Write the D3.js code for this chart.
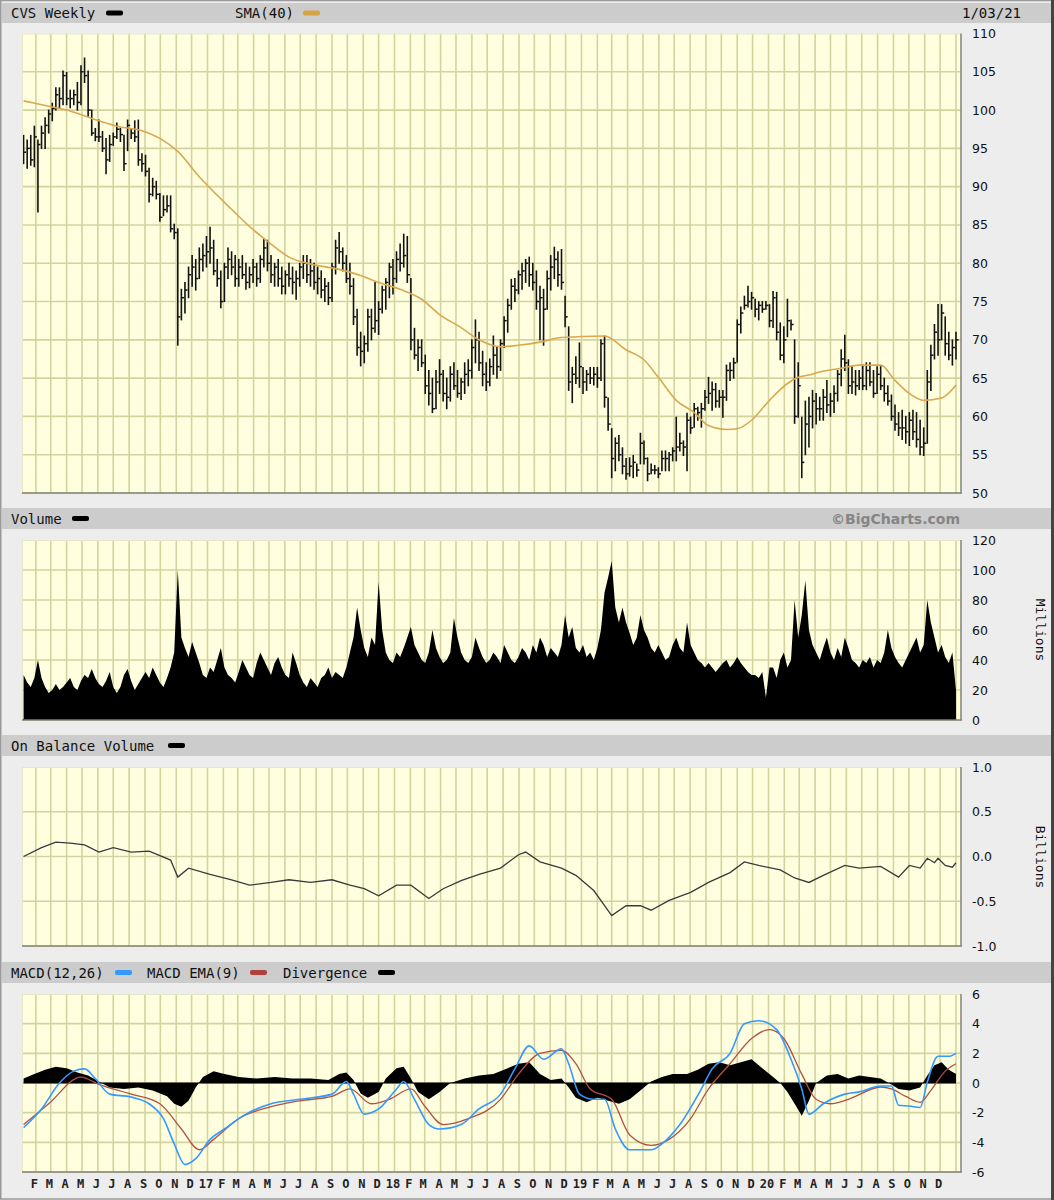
<!DOCTYPE html>
<html><head><meta charset="utf-8">
<script src="https://cdn.jsdelivr.net/npm/d3@7"></script>
<style>body{margin:0;background:#ededed}</style>
</head><body>
<svg id="c" width="1054" height="1200"></svg>
<script>
// ---------------- DATA ----------------
const firstWeek = "2016-01-08";
const priceHigh = [96.7,96.1,96.7,97.9,96.1,97.9,99.0,100.0,100.9,102.9,102.9,105.1,104.9,102.6,102.6,103.6,105.8,106.8,105.1,100.0,97.6,98.7,97.2,96.3,96.7,97.0,98.3,97.6,96.7,98.7,97.6,98.6,98.7,94.3,94.1,92.4,91.1,90.7,89.1,88.8,88.8,88.8,85.1,84.5,
76.6,77.5,79.5,81.0,80.5,82.0,82.5,83.5,84.7,83.0,80.5,79.0,80.0,82.0,81.5,81.0,80.5,81.0,80.0,79.5,80.5,80.0,81.0,83.2,83.0,81.0,80.0,80.5,79.5,79.0,80.0,79.5,79.0,80.0,81.0,81.0,80.5,80.0,79.5,79.0,78.0,77.5,80.0,83.0,84.0,82.0,81.0,80.0,78.0,74.0,71.0,70.5,74.0,74.0,77.5,75.0,77.0,78.0,80.0,80.5,81.5,82.5,83.8,83.5,78.0,71.5,70.0,70.0,68.0,66.0,65.0,66.0,67.4,66.0,65.0,66.5,67.0,66.0,65.0,67.0,67.4,70.0,72.6,71.0,68.5,67.0,67.5,70.5,69.0,70.0,73.0,75.3,77.9,78.0,79.0,80.0,80.5,80.8,80.0,79.0,77.0,76.6,79.0,81.0,82.1,81.5,
81.8,75.7,71.7,66.4,67.8,69.6,66.4,66.0,66.4,66.4,66.4,70.0,70.5,62.4,58.4,57.2,57.5,55.9,54.5,54.6,54.9,53.8,57.8,56.8,54.6,53.8,53.6,53.3,55.5,55.5,55.3,55.9,59.9,57.8,56.8,60.4,59.9,61.7,61.2,61.7,63.4,65.1,64.5,64.3,63.4,63.4,66.7,67.0,67.6,72.6,74.3,75.7,77.0,76.2,75.3,75.0,75.0,75.0,74.6,76.3,76.2,72.2,71.7,75.3,72.6,70.0,67.0,59.9,
62.0,62.5,63.4,63.0,62.5,63.5,64.7,63.0,64.0,66.0,68.7,70.6,67.4,66.5,66.0,66.0,66.7,67.0,67.0,66.0,66.5,66.5,65.0,64.0,62.8,61.5,60.5,60.8,60.0,60.5,60.8,60.5,59.5,58.5,66.0,69.3,72.0,74.6,74.6,73.0,71.0,70.0,71.0];
const priceLow = [93.0,92.4,92.8,92.6,86.7,95.0,95.0,97.0,98.6,100.0,100.3,100.7,100.7,100.3,100.7,100.0,100.7,103.6,99.2,96.7,96.0,95.9,94.6,91.7,93.3,95.4,96.3,95.9,92.1,94.7,96.3,95.9,92.8,92.0,91.4,88.0,88.8,88.4,85.5,86.2,86.7,84.1,83.2,69.3,
72.6,73.5,75.5,77.0,76.5,78.0,79.0,79.5,80.0,78.5,77.0,74.2,75.0,78.0,78.5,77.0,77.0,78.0,76.6,76.8,77.5,77.0,77.5,79.5,79.0,77.5,77.0,77.0,76.0,76.0,77.0,76.0,75.3,77.0,78.0,77.5,77.0,76.6,76.0,75.5,75.0,74.6,75.0,78.6,80.0,79.0,77.5,76.0,72.0,68.0,66.6,67.0,68.5,70.0,71.0,70.7,73.5,74.0,75.5,76.0,77.5,79.0,79.5,77.5,68.7,67.5,66.0,66.5,63.0,61.5,60.5,61.0,63.0,62.0,61.0,62.0,63.5,62.5,62.2,63.0,64.0,65.0,67.0,66.0,64.0,63.4,64.0,65.5,65.0,66.0,69.0,71.0,74.0,75.0,76.0,76.6,77.5,77.0,76.5,74.0,70.0,69.3,74.0,76.5,78.0,77.0,
76.6,71.7,63.4,61.8,64.3,63.8,63.0,63.4,64.3,64.1,63.8,64.7,61.2,58.2,52.0,52.9,54.2,52.5,51.8,52.2,52.0,52.2,53.8,53.8,51.6,52.5,52.5,52.0,52.9,52.9,52.9,54.2,54.2,55.5,54.9,52.9,57.8,58.6,59.5,58.6,60.8,61.7,60.8,61.2,61.2,59.9,62.1,64.7,65.0,67.1,70.9,74.0,74.3,74.0,73.0,72.6,73.6,74.0,71.7,71.6,70.0,67.4,67.0,70.4,71.3,59.1,59.9,52.0,
55.0,56.0,58.5,59.0,59.5,59.5,60.5,60.0,60.5,62.0,64.0,66.0,63.0,63.0,62.8,63.5,63.5,63.5,64.0,62.5,63.0,63.5,62.0,61.5,59.5,58.2,57.5,57.0,56.5,56.2,57.0,56.0,55.0,54.9,56.5,63.4,67.5,68.0,70.0,68.0,67.4,66.7,67.5];
const priceClose = [94.5,95.0,93.5,96.5,95.5,97.0,98.0,99.5,100.2,102.0,101.5,104.5,101.5,101.5,102.0,101.0,105.0,104.5,100.0,97.0,96.5,96.5,95.0,93.5,95.5,96.5,97.5,96.8,93.0,98.0,97.0,96.5,93.5,93.0,92.0,89.0,90.0,89.0,86.0,87.0,87.5,84.5,84.0,73.0,
75.5,76.5,78.5,79.5,78.0,80.5,81.0,81.5,82.0,79.0,78.0,75.0,79.5,80.5,79.5,78.0,79.5,78.5,77.5,78.5,79.5,78.0,80.5,82.0,80.0,78.5,79.5,78.0,77.0,78.5,78.0,77.5,78.0,79.5,80.0,78.5,79.0,77.5,78.0,76.5,77.0,75.5,79.5,82.0,81.5,80.0,78.0,77.0,73.0,69.0,68.5,69.5,73.0,71.5,72.5,74.0,76.5,77.5,79.5,78.0,80.5,80.0,81.0,78.5,70.0,68.0,69.0,67.0,64.0,63.0,61.0,64.5,65.5,63.0,62.5,65.5,64.0,63.0,64.5,65.5,66.0,69.0,70.0,67.0,65.5,64.5,66.5,68.0,66.5,69.5,72.5,74.5,77.0,76.5,78.5,79.0,80.0,78.5,77.5,75.0,75.5,74.0,78.0,79.5,80.5,78.5,
77.5,73.0,64.5,65.5,65.0,66.5,64.5,65.5,65.0,65.5,65.0,69.5,62.5,59.0,54.5,56.5,55.0,53.5,52.5,53.5,54.0,53.0,56.5,54.5,52.5,53.0,53.0,52.5,54.5,54.5,55.0,55.5,56.0,56.5,56.0,59.5,58.5,61.0,60.5,61.0,62.5,63.0,63.5,62.0,62.5,62.5,66.0,66.0,67.0,72.0,73.5,74.5,75.0,75.5,74.0,74.5,74.0,74.5,72.5,75.5,71.0,68.0,70.0,72.5,72.0,60.0,64.0,54.0,
59.0,60.0,62.0,61.0,61.0,62.5,61.5,62.0,63.0,65.5,67.5,67.0,64.0,64.5,64.0,65.0,64.0,66.0,64.5,63.0,65.5,64.0,63.0,62.0,60.0,59.0,58.5,58.5,58.0,59.5,58.0,57.0,56.0,56.5,64.5,68.0,71.0,70.0,73.5,69.5,68.0,69.0,70.0];

const smaWeeks  = [0,7,12,19,26,33,38,43,49,57,63,69,74,80,88,94,99,105,111,116,122,127,133,138,144,150,162,168,173,177,182,187,191,196,199,203,208,213,216,219,222,228,233,239,243,247,251,256,260];
const smaValues = [101.2,100.5,100.0,98.9,97.9,97.3,96.3,94.6,91.3,87.5,84.8,82.5,80.8,79.9,79.2,78.4,77.5,76.6,75.3,73.3,71.6,70.0,69.1,69.3,69.7,70.3,70.5,68.7,67.4,65.1,62.1,60.5,58.8,58.3,58.4,59.5,62.1,64.3,65.1,65.4,65.8,66.3,66.7,66.7,64.7,63.0,62.1,62.4,64.1];

const volumeMillions = [30,25,22,28,40,28,22,18,20,24,20,22,25,28,22,20,26,30,28,34,28,24,22,26,32,22,18,22,30,34,26,20,24,28,32,28,35,30,25,22,28,35,45,100,
55,48,42,52,45,38,30,28,35,32,40,48,35,30,28,25,32,40,35,30,28,38,45,40,35,30,38,42,35,30,28,45,38,30,25,22,28,25,22,28,30,35,28,32,30,28,35,45,55,75,60,48,42,55,50,92,60,45,40,38,45,42,48,55,62,50,45,40,38,45,60,48,42,38,40,45,68,55,45,40,38,42,55,48,42,38,40,45,42,38,50,45,40,38,42,48,45,40,50,45,55,50,42,48,45,42,
50,70,55,62,48,45,50,42,45,40,48,60,85,95,106,75,65,75,65,58,50,55,70,60,55,48,45,50,45,40,42,50,55,48,45,65,50,45,40,38,35,38,35,32,35,38,40,35,38,42,38,35,32,30,30,28,32,15,35,35,28,40,45,35,40,80,55,70,
93,60,50,45,40,48,55,45,40,48,42,55,48,40,38,35,40,38,42,35,40,38,45,60,48,42,38,35,40,45,50,55,45,50,80,65,55,45,50,42,38,45,20];

const obvWeeks  = [0,5,9,13,17,21,25,30,35,41,43,46,52,58,63,69,74,80,86,91,95,99,104,108,113,117,122,127,133,138,140,144,150,154,159,164,168,172,175,180,186,191,197,201,205,211,215,219,223,229,233,239,244,247,250,252,254,255,257,259,260];
const obvBillions = [0.0,0.10,0.16,0.15,0.13,0.05,0.10,0.05,0.06,-0.04,-0.23,-0.13,-0.20,-0.26,-0.32,-0.29,-0.26,-0.29,-0.26,-0.32,-0.36,-0.44,-0.32,-0.32,-0.47,-0.36,-0.27,-0.20,-0.13,0.02,0.05,-0.06,-0.13,-0.21,-0.38,-0.66,-0.55,-0.55,-0.60,-0.49,-0.40,-0.29,-0.18,-0.06,-0.10,-0.15,-0.24,-0.29,-0.21,-0.10,-0.13,-0.11,-0.23,-0.10,-0.13,-0.02,-0.07,-0.02,-0.10,-0.12,-0.07];

const macdWeeks  = [0,5,10,14,17,20,24,30,35,39,42,45,48,52,56,62,69,77,86,90,92,95,99,104,106,109,113,116,122,127,133,137,141,145,150,152,155,159,162,165,169,175,178,183,189,192,197,201,205,210,214,217,219,223,229,233,239,242,244,247,250,252,255,258,260];
const macdValues = [-3.0,-1.75,0.0,0.8,0.95,0.3,-0.75,-0.95,-1.4,-2.4,-4.1,-5.5,-5.1,-3.8,-3.1,-2.1,-1.4,-1.1,-0.75,0.1,-0.75,-2.1,-1.75,-0.4,0.1,-1.1,-2.8,-3.1,-2.8,-1.75,-0.75,0.95,2.5,1.6,2.3,1.3,-0.75,-1.1,-1.1,-3.1,-4.5,-4.5,-4.1,-2.8,-0.4,0.95,2.0,4.0,4.2,3.6,1.6,-0.4,-2.1,-1.4,-0.75,-0.6,-0.2,-0.2,-1.5,-1.55,-1.65,0.05,1.8,1.8,2.0];
const emaWeeks  = [0,7,16,21,30,38,44,49,53,60,69,77,86,91,97,102,108,112,117,124,133,138,144,150,154,158,164,169,175,180,186,191,197,203,208,212,217,221,225,230,239,242,246,250,253,257,260];
const emaValues = [-2.8,-1.4,0.4,-0.1,-0.75,-1.4,-3.1,-4.5,-3.8,-2.4,-1.6,-1.2,-0.9,-0.4,-1.4,-1.1,-0.4,-1.6,-2.8,-2.4,-1.1,0.6,2.0,2.2,1.3,-0.4,-1.1,-3.5,-4.2,-3.8,-2.4,-0.4,1.3,3.0,3.6,3.0,0.6,-1.1,-1.4,-1.1,-0.27,-0.4,-0.9,-1.3,-0.5,0.8,1.3];
const divWeeks  = [0,3,6,9,12,15,18,21,24,28,32,36,40,42,44,46,48,50,53,56,60,65,70,75,80,85,88,90,92,94,96,99,101,104,106,108,110,113,116,119,123,127,131,135,138,141,144,147,150,152,154,157,160,163,166,169,172,175,178,181,185,188,191,194,197,200,203,206,209,211,213,215,217,219,221,224,227,230,233,236,239,242,244,247,250,252,254,256,258,260];
const divValues = [0.3,0.6,0.9,1.1,1.0,0.7,0.5,0.1,-0.3,-0.4,-0.3,-0.5,-0.9,-1.4,-1.6,-1.2,-0.3,0.4,0.8,0.6,0.4,0.3,0.4,0.3,0.3,0.2,0.6,0.7,0.2,-0.7,-1.0,-0.6,0.3,1.0,1.1,0.3,-0.6,-1.1,-0.6,0.0,0.3,0.5,0.6,1.0,1.3,1.4,0.6,0.2,0.3,-0.3,-1.0,-1.3,-1.0,-1.2,-1.4,-1.1,-0.5,0.1,0.4,0.6,0.6,0.9,1.3,1.4,1.2,1.4,1.6,1.0,0.4,0.0,-0.6,-1.4,-2.2,-1.2,0.0,0.5,0.6,0.3,0.5,0.4,0.3,-0.1,-0.4,-0.5,-0.3,0.5,1.2,1.4,0.9,0.6];

const xTickLabels = ["F","M","A","M","J","J","A","S","O","N","D","17","F","M","A","M","J","J","A","S","O","N","D","18","F","M","A","M","J","J","A","S","O","N","D","19","F","M","A","M","J","J","A","S","O","N","D","20","F","M","A","M","J","J","A","S","O","N","D"];
const priceTicks = [110,105,100,95,90,85,80,75,70,65,60,55,50];
const volumeTicks = [120,100,80,60,40,20,0];
const obvTicks = [1,0.5,0,-0.5,-1];
const obvTickLabels = ["1.0","0.5","0.0","-0.5","-1.0"];
const macdTicks = [6,4,2,0,-2,-4,-6];
const macdTickLabels = ["6","4","2","0","-2","-4","-6"];

// ---------------- DRAW ----------------
const svg = d3.select("#c");
const W = 1054, H = 1200, PL = 22, PR = 961;
const BG = "#ededed", BAND = "#cccccc", PLOT = "#ffffe0", GRID = "#d3d39f";
const MONO = "'DejaVu Sans Mono', monospace", SANS = "'DejaVu Sans', Verdana, sans-serif";

svg.append("rect").attr("width", W).attr("height", H).attr("fill", BG);

const parse = d3.utcParse("%Y-%m-%d");
const start = parse(firstWeek);
const weekDate = i => d3.utcDay.offset(start, 7 * i);
const x = d3.scaleUtc().domain([new Date(Date.UTC(2016,0,1)), new Date(Date.UTC(2021,0,3))]).range([20, 957]);
const months = d3.utcMonth.range(new Date(Date.UTC(2016,1,1)), new Date(Date.UTC(2021,0,2)));

function band(y0, y1) {
  svg.append("rect").attr("x", 2).attr("y", y0).attr("width", W - 5).attr("height", y1 - y0).attr("fill", BAND);
}
band(3, 23); band(508, 529); band(735, 756); band(962, 983);

function hText(t, xx, yy, opts = {}) {
  return svg.append("text").attr("x", xx).attr("y", yy).text(t)
    .attr("font-family", opts.family || MONO).attr("font-size", opts.size || 14)
    .attr("font-weight", opts.weight || "normal")
    .attr("fill", opts.fill || "#111").attr("text-anchor", opts.anchor || "start")
    .attr("dominant-baseline", "central");
}
function swatch(xx, yy, color) {
  svg.append("rect").attr("x", xx).attr("y", yy - 2.5).attr("width", 17).attr("height", 5).attr("rx", 2).attr("fill", color);
}
hText("CVS Weekly", 11, 13); swatch(106, 13, "#000");
hText("SMA(40)", 235, 13); swatch(303, 13, "#d6a444");
hText("1/03/21", 1021, 13, {anchor: "end"});
hText("Volume", 11, 518.5); swatch(72, 518.5, "#000");
hText("\u00A9BigCharts.com", 960, 518.5, {family: SANS, weight: "bold", fill: "#858585", anchor: "end", size: 14});
hText("On Balance Volume", 11, 745.5); swatch(168, 745.5, "#000");
hText("MACD(12,26)", 11, 972.5); swatch(115, 972.5, "#3399ff");
hText("MACD EMA(9)", 147, 972.5); swatch(250, 972.5, "#b0403a");
hText("Divergence", 283, 972.5); swatch(378, 972.5, "#000");

function panel(top, bottom, domain, ticks, labels) {
  const y = d3.scaleLinear().domain(domain).range([bottom, top]);
  const g = svg.append("g");
  g.append("rect").attr("x", PL).attr("y", top).attr("width", PR - PL).attr("height", bottom - top).attr("fill", PLOT);
  g.append("g").selectAll("line").data(months).join("line")
    .attr("x1", d => x(d)).attr("x2", d => x(d)).attr("y1", top).attr("y2", bottom)
    .attr("stroke", GRID).attr("stroke-width", 1.6);
  g.append("g").selectAll("line").data(ticks.filter(t => t > domain[0] && t < domain[1])).join("line")
    .attr("x1", PL).attr("x2", PR).attr("y1", d => y(d)).attr("y2", d => y(d))
    .attr("stroke", GRID).attr("stroke-width", 1.6);
  const ax = svg.append("g").attr("transform", `translate(${PR},0)`)
    .call(d3.axisRight(y).tickValues(ticks).tickSize(0).tickPadding(11)
      .tickFormat((d, i) => labels ? labels[i] : String(d)));
  ax.select(".domain").remove();
  ax.selectAll("text").attr("font-family", SANS).attr("font-size", 12.5).attr("fill", "#111");
  const data = svg.append("g");
  const frame = () => {
    svg.append("line").attr("x1", PL).attr("x2", PR).attr("y1", top + 0.5).attr("y2", top + 0.5).attr("stroke", "#e6e6c8").attr("stroke-width", 1);
    svg.append("line").attr("x1", PL + 0.5).attr("x2", PL + 0.5).attr("y1", top).attr("y2", bottom).attr("stroke", "#e6e6c8").attr("stroke-width", 1);
    svg.append("line").attr("x1", PL).attr("x2", PR + 1).attr("y1", bottom).attr("y2", bottom).attr("stroke", "#7d7d68").attr("stroke-width", 1.6);
    svg.append("line").attr("x1", PR).attr("x2", PR).attr("y1", top).attr("y2", bottom).attr("stroke", "#8a8a80").attr("stroke-width", 1.6);
  };
  return {y, data, frame};
}

// ---- price panel
const P = panel(33.5, 493, [50, 110], priceTicks);
const weeks = d3.range(priceHigh.length);
P.data.selectAll(".bar").data(weeks).join("line")
  .attr("x1", i => x(weekDate(i))).attr("x2", i => x(weekDate(i)))
  .attr("y1", i => P.y(priceHigh[i]) - 0.5).attr("y2", i => P.y(priceLow[i]) + 0.5)
  .attr("stroke", "#111").attr("stroke-width", 1.6);
P.data.selectAll(".cl").data(weeks).join("line")
  .attr("x1", i => x(weekDate(i))).attr("x2", i => x(weekDate(i)) + 2.6)
  .attr("y1", i => P.y(priceClose[i])).attr("y2", i => P.y(priceClose[i]))
  .attr("stroke", "#111").attr("stroke-width", 1.5);
P.data.append("path")
  .datum(smaWeeks.map((w, k) => [w, smaValues[k]]))
  .attr("d", d3.line().x(d => x(weekDate(d[0]))).y(d => P.y(d[1])).curve(d3.curveMonotoneX))
  .attr("fill", "none").attr("stroke", "#d9a850").attr("stroke-width", 1.6);
P.frame();

// ---- volume panel
const V = panel(540, 720, [0, 120], volumeTicks);
V.data.append("path")
  .datum(volumeMillions.map((v, i) => [i, v]))
  .attr("d", d3.area().x(d => x(weekDate(d[0]))).y0(V.y(0)).y1(d => V.y(d[1])))
  .attr("fill", "#000");
V.data.append("rect").attr("x", PL).attr("y", V.y(0) - 1).attr("width", x(weekDate(260)) - PL).attr("height", 1).attr("fill", "#000");
V.frame();
svg.append("text").attr("transform", "translate(1040,630) rotate(90)").text("Millions")
  .attr("font-family", MONO).attr("font-size", 13).attr("text-anchor", "middle").attr("dominant-baseline", "central").attr("fill", "#111");

// ---- OBV panel
const O = panel(767, 946, [-1, 1], obvTicks, obvTickLabels);
O.data.append("path")
  .datum(obvWeeks.map((w, k) => [w, obvBillions[k]]))
  .attr("d", d3.line().x(d => x(weekDate(d[0]))).y(d => O.y(d[1])))
  .attr("fill", "none").attr("stroke", "#3a3a3a").attr("stroke-width", 1.3);
O.frame();
svg.append("text").attr("transform", "translate(1040,857) rotate(90)").text("Billions")
  .attr("font-family", MONO).attr("font-size", 13).attr("text-anchor", "middle").attr("dominant-baseline", "central").attr("fill", "#111");

// ---- MACD panel
const M = panel(994, 1172, [-6, 6], macdTicks, macdTickLabels);
M.data.append("path")
  .datum(divWeeks.map((w, k) => [w, divValues[k]]))
  .attr("d", d3.area().x(d => x(weekDate(d[0]))).y0(M.y(0)).y1(d => M.y(d[1])))
  .attr("fill", "#000");
M.data.append("line").attr("x1", x(weekDate(0))).attr("x2", x(weekDate(260))).attr("y1", M.y(0)).attr("y2", M.y(0)).attr("stroke", "#000").attr("stroke-width", 1);
M.data.append("path")
  .datum(emaWeeks.map((w, k) => [w, emaValues[k]]))
  .attr("d", d3.line().x(d => x(weekDate(d[0]))).y(d => M.y(d[1])).curve(d3.curveMonotoneX))
  .attr("fill", "none").attr("stroke", "#b5503f").attr("stroke-width", 1.3);
M.data.append("path")
  .datum(macdWeeks.map((w, k) => [w, macdValues[k]]))
  .attr("d", d3.line().x(d => x(weekDate(d[0]))).y(d => M.y(d[1])).curve(d3.curveMonotoneX))
  .attr("fill", "none").attr("stroke", "#3399ff").attr("stroke-width", 1.6);
M.frame();

// ---- x axis labels
const xa = svg.append("g").attr("transform", "translate(-2,1184)")
  .call(d3.axisBottom(x).tickValues(months.slice(0, xTickLabels.length)).tickSize(0).tickPadding(0)
    .tickFormat((d, i) => xTickLabels[i]));
xa.select(".domain").remove();
xa.selectAll("text").attr("font-family", MONO).attr("font-size", 12).attr("font-weight", "bold")
  .attr("fill", "#222").attr("dy", null).attr("dominant-baseline", "central");

// outer border
svg.append("rect").attr("x", 0.75).attr("y", 0.5).attr("width", W - 2.5).attr("height", H - 1.5)
  .attr("fill", "none").attr("stroke", "#9a9a9a").attr("stroke-width", 1.5);
svg.append("line").attr("x1", W - 1.5).attr("x2", W - 1.5).attr("y1", 0).attr("y2", H).attr("stroke", "#444").attr("stroke-width", 3);
</script>
</body></html>
